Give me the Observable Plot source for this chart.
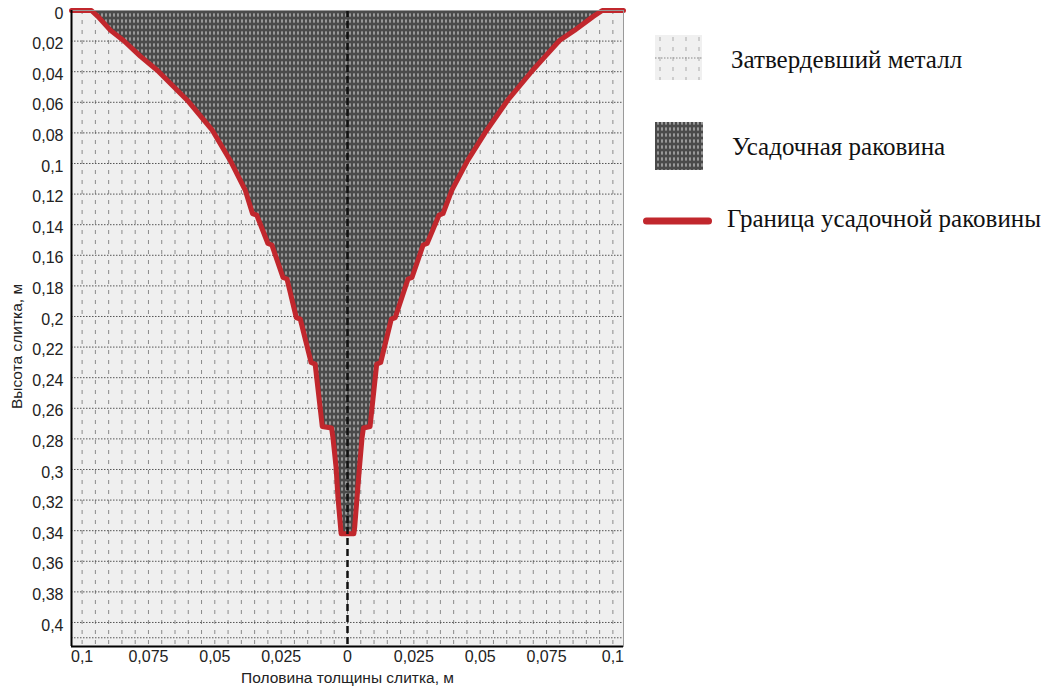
<!DOCTYPE html>
<html>
<head>
<meta charset="utf-8">
<script src="https://cdn.jsdelivr.net/npm/d3@7"></script>
<script src="https://cdn.jsdelivr.net/npm/@observablehq/plot@0.6"></script>
<style>
  body { margin: 0; background: #fff; }
  #wrap { position: relative; width: 1051px; height: 688px; overflow: hidden; }
  #chart { position: absolute; left: 0; top: 0; }
  #legend { position: absolute; left: 640px; top: 0; }
</style>
</head>
<body>
<div id="wrap">
  <div id="chart"></div>
  <svg id="legend" width="411" height="688" xmlns="http://www.w3.org/2000/svg"></svg>
</div>
<script>
// ---- data (metres) ----
const depth     = [0, 0.004, 0.013, 0.0196, 0.03, 0.0392, 0.0588, 0.0784, 0.098, 0.1176,
                   0.1327, 0.1337, 0.1523, 0.1533, 0.1745, 0.1755, 0.2007, 0.2017, 0.2301, 0.2311,
                   0.2719, 0.2729, 0.279, 0.2987, 0.3183, 0.3379, 0.342];
const leftHalf  = [0.0965, 0.094, 0.0893, 0.0844, 0.078, 0.0716, 0.0603, 0.0509, 0.0442, 0.0385,
                   0.0358, 0.0342, 0.0300, 0.0285, 0.0243, 0.0228, 0.0193, 0.0178, 0.0137, 0.0122,
                   0.0095, 0.0060, 0.0055, 0.0043, 0.0036, 0.0026, 0.0024];
const rightHalf = [0.096, 0.0925, 0.0855, 0.0799, 0.0745, 0.0697, 0.0603, 0.0524, 0.0453, 0.0393,
                   0.0360, 0.0345, 0.0300, 0.0285, 0.0243, 0.0228, 0.0180, 0.0165, 0.0125, 0.0110,
                   0.0085, 0.0060, 0.0055, 0.0045, 0.0036, 0.0027, 0.0024];
const xLimit = 0.104;     // half-thickness extent of the ingot shown
const yLimit = 0.4157;    // height extent shown
const xTicks = [-0.1, -0.075, -0.05, -0.025, 0, 0.025, 0.05, 0.075, 0.1];
const yTicks = [0, 0.02, 0.04, 0.06, 0.08, 0.1, 0.12, 0.14, 0.16, 0.18, 0.2,
                0.22, 0.24, 0.26, 0.28, 0.3, 0.32, 0.34, 0.36, 0.38, 0.4];
const hGrid = [0.02, 0.04, 0.06, 0.08, 0.1, 0.12, 0.14, 0.16, 0.18, 0.2,
               0.22, 0.24, 0.26, 0.28, 0.3, 0.32, 0.34, 0.36, 0.38, 0.4, 0.41];
const vGridStep = 0.005;
const legendLabels = ["Затвердевший металл", "Усадочная раковина", "Граница усадочной раковины"];
const xLabel = "Половина толщины слитка, м";
const yLabel = "Высота слитка, м";

// ---- derived tables ----
const rows = depth.map((y, i) => ({y, l: -leftHalf[i], r: rightHalf[i]}));
const boundary = [{x: -xLimit, y: 0},
  ...rows.map(d => ({x: d.l, y: d.y})),
  ...rows.slice().reverse().map(d => ({x: d.r, y: d.y})),
  {x: xLimit, y: 0}];
const vGrid = d3.range(-20, 21).map(i => +(i * vGridStep).toFixed(3));
const fmt = v => String(+Math.abs(v).toFixed(3)).replace(".", ",");

const red = "#c1272d";

const chart = Plot.plot({
  width: 640,
  height: 688,
  marginLeft: 71,
  marginRight: 17,
  marginTop: 10,
  marginBottom: 42,
  style: {fontFamily: "'Liberation Sans', Arial, sans-serif", background: "transparent", color: "#222"},
  x: {domain: [-xLimit, xLimit], axis: null},
  y: {domain: [0, yLimit], reverse: true, axis: null},
  marks: [
    Plot.frame({fill: "#efefef", stroke: null}),
    Plot.ruleX(vGrid, {stroke: "#8a8a8a", strokeWidth: 1, strokeDasharray: "4,6"}),
    Plot.ruleY(hGrid, {stroke: "#555", strokeWidth: 1, strokeDasharray: "1.5,1.5"}),
    Plot.areaX(rows, {y: "y", x1: "l", x2: "r", fill: "url(#cavity)"}),
    Plot.line(boundary, {x: "x", y: "y", stroke: red, strokeWidth: 5, strokeLinejoin: "round"}),
    Plot.ruleX([0], {stroke: "#111", strokeWidth: 2.5, strokeDasharray: "7,4"}),
    Plot.frame({stroke: "#9a9a9a", strokeWidth: 1}),
    Plot.ruleX([-xLimit], {stroke: "#000", strokeWidth: 2}),
    Plot.ruleY([yLimit], {stroke: "#000", strokeWidth: 2}),
    Plot.axisY(yTicks, {tickSize: 0, tickPadding: 8, dy: 3, tickFormat: fmt, fontSize: 16, label: null}),
    Plot.axisX(xTicks, {tickSize: 0, tickPadding: 4, tickFormat: fmt, fontSize: 16, label: null}),
    Plot.text([xLabel], {frameAnchor: "bottom", lineAnchor: "middle", textAnchor: "middle", dy: 32, fontSize: 15.5, fill: "#222"}),
    Plot.text([yLabel], {frameAnchor: "left", lineAnchor: "middle", textAnchor: "middle", dx: -54, dy: 18, rotate: -90, fontSize: 15.5, fill: "#222"})
  ]
});

d3.select(chart).insert("defs", ":first-child").html(
  `<pattern id="cavity" width="4" height="6" patternUnits="userSpaceOnUse">
     <rect width="4" height="6" fill="#4a4a4a"/>
     <ellipse cx="2" cy="3" rx="0.9" ry="2" fill="#a8a8a8"/>
   </pattern>`);
document.getElementById("chart").appendChild(chart);

// ---- legend ----
const lg = d3.select("#legend");
lg.append("defs").html(
  `<pattern id="cavity2" width="4" height="6" patternUnits="userSpaceOnUse">
     <rect width="4" height="6" fill="#4a4a4a"/>
     <ellipse cx="2" cy="3" rx="0.9" ry="2" fill="#a8a8a8"/>
   </pattern>`);
// solid metal swatch
const sw1 = lg.append("g").attr("transform", "translate(15,35)");
sw1.append("rect").attr("width", 47).attr("height", 45).attr("fill", "#f0f0f0");
[5, 18, 31, 44].forEach(x => sw1.append("line").attr("x1", x).attr("x2", x).attr("y1", 2).attr("y2", 45)
  .attr("stroke", "#aaa").attr("stroke-dasharray", "4,6"));
sw1.append("line").attr("x1", 0).attr("x2", 47).attr("y1", 23).attr("y2", 23)
  .attr("stroke", "#888").attr("stroke-dasharray", "1.5,1.5");
// cavity swatch
lg.append("rect").attr("x", 15).attr("y", 122).attr("width", 48).attr("height", 48).attr("fill", "url(#cavity2)");
// boundary swatch
lg.append("line").attr("x1", 6.5).attr("x2", 68.5).attr("y1", 221).attr("y2", 221)
  .attr("stroke", red).attr("stroke-width", 7).attr("stroke-linecap", "round");
const txt = [[91, 68], [92, 155], [87, 227]];
legendLabels.forEach((t, i) => lg.append("text").attr("x", txt[i][0]).attr("y", txt[i][1])
  .attr("font-family", "'Liberation Serif', 'Times New Roman', serif").attr("font-size", 25)
  .attr("fill", "#111").text(t));
</script>
</body>
</html>
